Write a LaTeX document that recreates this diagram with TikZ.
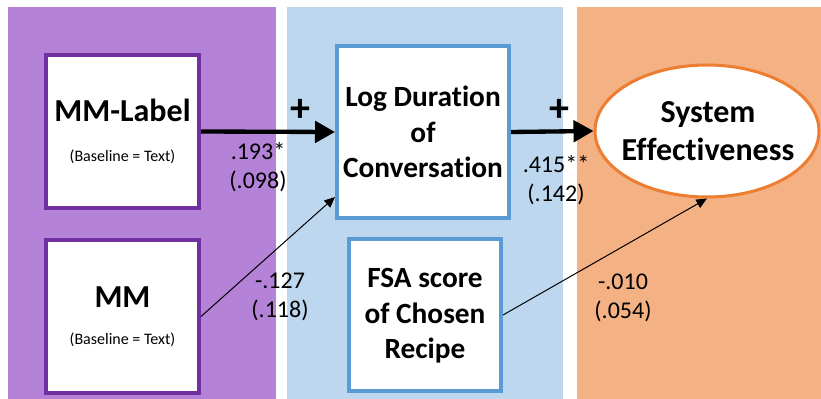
\documentclass[tikz,border=0pt]{standalone}
\usepackage{fontspec}
\setmainfont{Carlito}[RawFeature={-liga;-dlig;-clig;-calt;-rlig;-hlig}]
\usetikzlibrary{arrows.meta,shapes.geometric}

\definecolor{panelPurple}{RGB}{180,130,214}
\definecolor{panelBlue}{RGB}{189,215,238}
\definecolor{panelOrange}{RGB}{244,177,131}
\definecolor{edgePurple}{RGB}{112,48,160}
\definecolor{edgeBlue}{RGB}{91,155,213}
\definecolor{edgeOrange}{RGB}{237,125,49}

\tikzset{every picture/.style={line width=0.75pt}}
\tikzset{
  varbox/.style={draw, fill=white, line width=3pt, inner sep=0pt},
  outcome/.style={ellipse, draw=edgeOrange, fill=white, line width=2.25pt, inner sep=0pt,
    minimum width=168pt, minimum height=99pt},
  ttl/.style={inner sep=0.75pt, align=center, font=\bfseries\fontsize{22}{26.5}\selectfont},
  bigttl/.style={inner sep=0.75pt, align=center, font=\bfseries\fontsize{24}{28.8}\selectfont},
  basenote/.style={inner sep=0.75pt, font=\fontsize{12}{14}\selectfont},
  coef/.style={inner sep=0.75pt, align=center, font=\fontsize{18}{21.6}\selectfont},
  plus/.style={inner sep=0.75pt, font=\bfseries\fontsize{30}{33}\selectfont},
  strongpath/.style={line width=3.25pt, -{Triangle[length=15pt,width=16pt]}},
  weakpath/.style={line width=0.75pt, -{Triangle[length=8pt,width=7pt]}}
}

\begin{document}
\begin{tikzpicture}[x=0.75pt,y=0.75pt,yscale=-1,xscale=1]
\useasboundingbox (0,0) rectangle (821,399);

%Shape: Rectangle [panels]
\fill [panelPurple] (8,7) rectangle (276,399);
\fill [panelBlue] (287,7) rectangle (563,399);
\fill [panelOrange] (577,7) rectangle (821,399);

%Shape: Rectangle [inputs]
\draw (122.5,131.5) node [varbox, draw=edgePurple, minimum width=114.75pt, minimum height=114.75pt] (mmLabel) {};
\draw (122.5,316.5) node [varbox, draw=edgePurple, minimum width=114.75pt, minimum height=114.75pt] (mm) {};
%Shape: Rectangle [mediators]
\draw (423,132) node [varbox, draw=edgeBlue, minimum width=129pt, minimum height=129pt] (logDur) {};
\draw (425,315) node [varbox, draw=edgeBlue, minimum width=114pt, minimum height=114pt] (fsa) {};
%Shape: Ellipse [outcome]
\draw (707,131) node [outcome] (sysEff) {};

% Text Node
\draw (122.5,110) node [bigttl] (mmLabelTxt) {MM-Label};
% Text Node
\draw (122.5,157) node [basenote] (mmLabelBase) {(Baseline = Text)};
% Text Node
\draw (122.5,297) node [bigttl] (mmTxt) {MM};
% Text Node
\draw (122.5,340) node [basenote] (mmBase) {(Baseline = Text)};
% Text Node
\draw (423,132) node [ttl] (logDurTxt) {Log Duration\\of\\Conversation};
% Text Node
\draw (425,316) node [ttl] (fsaTxt) {FSA score\\of Chosen\\Recipe};
% Text Node
\draw (708,131) node [bigttl] (sysEffTxt) {System\\Effectiveness};

%Straight Lines [paths]
\draw [strongpath] (mmLabel.east) -- (logDur.west);
\draw [strongpath] (logDur.east) -- (sysEff.west);
\draw [weakpath] (mm.east) -- ([yshift=48.75pt]logDur.west);
\draw [weakpath] (fsa.east) -- (sysEff.south);

% Text Node
\draw (300,110) node [plus] (plusA) {+};
% Text Node
\draw (559,110) node [plus] (plusB) {+};
% Text Node
\draw (258,167) node [coef] (coefA) {.193*\\(.098)};
% Text Node
\draw (280,297) node [coef] (coefB) {-.127\\(.118)};
% Text Node
\draw (556,180) node [coef] (coefC) {.415**\\(.142)};
% Text Node
\draw (623,298) node [coef] (coefD) {-.010\\(.054)};

\end{tikzpicture}
\end{document}
